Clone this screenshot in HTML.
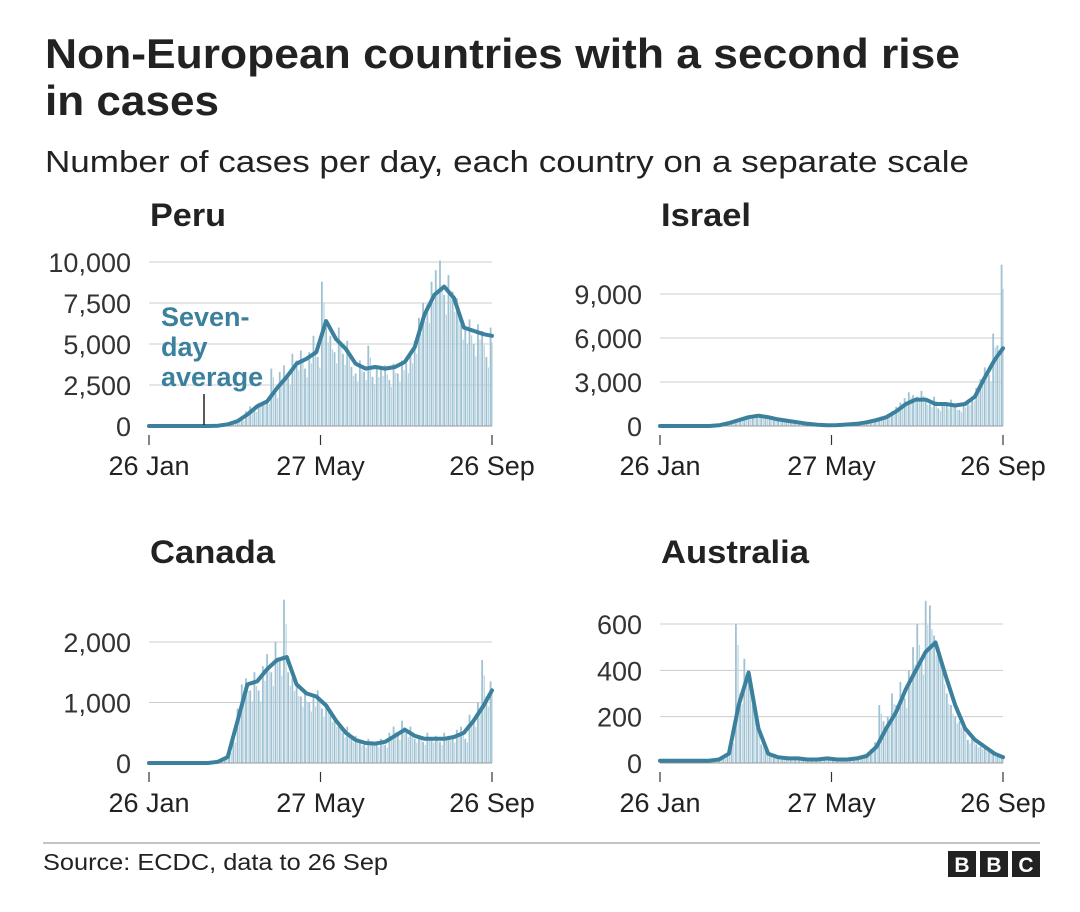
<!DOCTYPE html>
<html><head><meta charset="utf-8">
<style>
body{margin:0;background:#fff;width:1080px;height:907px;overflow:hidden;font-family:"Liberation Sans",Arial,sans-serif;}
svg text{font-family:"Liberation Sans",Arial,sans-serif;}
</style></head>
<body>
<svg id="chart" width="1080" height="907" viewBox="0 0 1080 907" xmlns="http://www.w3.org/2000/svg">
<text x="45" y="68" font-size="42" font-weight="bold" fill="#222" textLength="915" lengthAdjust="spacingAndGlyphs">Non-European countries with a second rise</text>
<text x="45" y="115" font-size="42" font-weight="bold" fill="#222" textLength="174" lengthAdjust="spacingAndGlyphs">in cases</text>
<text x="45" y="172" font-size="31" fill="#222" textLength="924" lengthAdjust="spacingAndGlyphs">Number of cases per day, each country on a separate scale</text>
<line x1="43" y1="843" x2="1040" y2="843" stroke="#888" stroke-width="1"/>
<text x="43" y="870" font-size="23" fill="#222" textLength="345" lengthAdjust="spacingAndGlyphs">Source: ECDC, data to 26 Sep</text>
<g>
<rect x="948" y="851" width="28" height="26" fill="#222"/><rect x="980" y="851" width="28" height="26" fill="#222"/><rect x="1012" y="851" width="28" height="26" fill="#222"/>
<text x="962" y="872" font-size="21" font-weight="bold" fill="#fff" text-anchor="middle">B</text>
<text x="994" y="872" font-size="21" font-weight="bold" fill="#fff" text-anchor="middle">B</text>
<text x="1026" y="872" font-size="21" font-weight="bold" fill="#fff" text-anchor="middle">C</text>
</g>
</svg>
<script>
const xTickLabels = ["26 Jan","27 May","26 Sep"];
const xTickDays = [0,122,244];
const totalDays = 244;
const avgStep = 7, barStep = 3;

const peruAvg = [0,0,0,0,0,0,0,20,100,300,700,1200,1500,2300,3000,3800,4100,4500,6400,5300,4700,3800,3500,3600,3500,3600,3900,4800,6800,8000,8500,7800,6000,5800,5600,5500];
const peruBars = [0,0,0,0,0,0,0,0,0,0,0,0,0,0,0,0,0,0,0,100,200,300,400,900,1200,1000,1400,1500,1600,3500,2000,3300,3700,2900,4400,4000,4600,3500,4500,5500,4200,8800,6000,5500,4500,6000,4400,5200,3600,3200,4000,3300,4900,3000,3500,3600,3700,2800,3800,3200,4000,3800,4500,5200,6600,7500,7400,8800,9500,10100,8000,9200,8200,7800,6200,5900,6500,5000,6200,5800,4200,6000];
const peruTicks = [0,2500,5000,7500,10000];
const peruTickLabels = ["0","2,500","5,000","7,500","10,000"];

const israelAvg = [0,0,0,0,0,0,50,200,400,600,700,600,450,350,250,150,80,50,60,100,150,250,400,600,1000,1500,1800,1800,1500,1500,1400,1500,2000,3300,4500,5300];
const israelBars = [0,0,0,0,0,0,0,0,0,0,0,0,0,0,100,150,250,300,400,500,600,700,750,800,650,700,550,500,400,450,300,350,250,200,150,150,100,80,60,50,40,60,80,100,150,120,200,250,200,300,400,350,500,650,800,1000,1300,1600,1900,2300,2100,2000,2400,1700,1500,2000,1200,1600,1400,1800,1300,1100,1500,1700,2000,2600,3200,4000,3500,6300,5500,11000];
const israelTicks = [0,3000,6000,9000];
const israelTickLabels = ["0","3,000","6,000","9,000"];

const canadaAvg = [0,0,0,0,0,0,0,20,100,700,1300,1350,1550,1700,1750,1300,1150,1100,950,700,500,380,330,320,350,450,550,450,400,400,400,430,500,700,950,1200];
const canadaBars = [0,0,0,0,0,0,0,0,0,0,0,0,0,0,0,0,20,50,100,200,400,900,1300,1400,1200,1500,1200,1600,1800,1500,2000,1700,2700,1500,1400,1300,1100,1200,1000,1100,1200,900,1000,800,700,650,500,600,400,450,350,300,400,350,300,400,300,500,600,450,700,500,600,400,450,350,500,400,450,350,500,450,400,550,600,400,800,700,1000,1700,1100,1350];
const canadaTicks = [0,1000,2000];
const canadaTickLabels = ["0","1,000","2,000"];

const ausAvg = [10,10,10,10,10,10,15,40,250,390,150,40,25,20,20,15,15,20,15,15,20,30,70,150,220,320,400,480,520,380,250,150,100,70,40,25];
const ausBars = [5,8,5,10,12,8,10,12,15,10,12,15,20,15,20,25,40,100,600,300,450,400,250,150,80,60,40,30,25,20,30,20,15,20,15,10,20,15,10,20,25,15,10,15,20,25,15,20,30,40,60,90,250,180,200,300,250,350,280,400,500,600,450,700,680,550,500,400,300,250,200,180,150,100,120,80,70,60,50,40,30,20];
const ausTicks = [0,200,400,600];
const ausTickLabels = ["0","200","400","600"];

const panels = [
 {name:"peru",title:"Peru",titleW:76,x0:149,x1:492,y0:426,yTop:262,tx:150,ty:226,max:10000,avg:peruAvg,bars:peruBars,ticks:peruTicks,labels:peruTickLabels},
 {name:"israel",title:"Israel",titleW:90,x0:660,x1:1003,y0:426,yTop:294,tx:661,ty:226,max:9000,avg:israelAvg,bars:israelBars,ticks:israelTicks,labels:israelTickLabels},
 {name:"canada",title:"Canada",titleW:125,x0:149,x1:492,y0:763,yTop:642,tx:150,ty:563,max:2000,avg:canadaAvg,bars:canadaBars,ticks:canadaTicks,labels:canadaTickLabels},
 {name:"australia",title:"Australia",titleW:148,x0:660,x1:1003,y0:763,yTop:624,tx:661,ty:563,max:600,avg:ausAvg,bars:ausBars,ticks:ausTicks,labels:ausTickLabels}
];

const NS="http://www.w3.org/2000/svg";
const svg=document.getElementById('chart');
function mk(tag,attrs,parent){const e=document.createElementNS(NS,tag);for(const k in attrs)e.setAttribute(k,attrs[k]);(parent||svg).appendChild(e);return e;}

panels.forEach(p=>{
 const g=mk('g',{});
 
 
 const xs=d=>p.x0+(p.x1-p.x0)*Math.min(d,totalDays)/totalDays;
 const ys=v=>p.y0-(p.y0-p.yTop)*v/p.max;
 const t=mk('text',{x:p.tx,y:p.ty,'font-size':32,'font-weight':'bold',fill:'#222',textLength:p.titleW,lengthAdjust:'spacingAndGlyphs'},g);
 t.textContent=p.title;
 
 
 p.ticks.forEach((v,i)=>{
  const y=ys(v);
  if(v>0){const gl=mk('line',{x1:p.x0,x2:p.x1,y1:y,y2:y,stroke:'#ccc','stroke-width':1},g);
   
   }
  const tl=mk('text',{x:p.x0-18,y:y+10,'font-size':27,fill:'#333','text-anchor':'end'},g);
  tl.textContent=p.labels[i];
  
  
 });
 p.bars.forEach((v,i)=>{
  const d=i*barStep; const x=xs(d); const y=ys(v);
  const b=mk('rect',{x:x-0.9,y:y,width:1.8,height:Math.max(0,p.y0-y),fill:'#9fc2d3'},g);
  
  
  const x2=xs(d+1.5);
  const b2=mk('rect',{x:x2-0.6,y:ys(v*0.85),width:1.2,height:Math.max(0,p.y0-ys(v*0.85)),fill:'#b9d3df'},g);
  
  
 });
 const base=mk('line',{x1:p.x0,x2:p.x1,y1:p.y0,y2:p.y0,stroke:'#999','stroke-width':1},g);
 
 
 let dstr='';
 p.avg.forEach((v,i)=>{dstr+=(i?'L':'M')+xs(i*avgStep).toFixed(1)+','+ys(v).toFixed(1);});
 const ln=mk('path',{d:dstr,fill:'none',stroke:'#3b809d','stroke-width':4,'stroke-linejoin':'round','stroke-linecap':'round'},g);
 
 
 xTickDays.forEach((d,i)=>{
  const x=xs(d);
  const tk=mk('line',{x1:x,x2:x,y1:p.y0+9,y2:p.y0+19,stroke:'#333','stroke-width':1.2},g);
  
  
  const tl=mk('text',{x:x,y:p.y0+49,'font-size':27,fill:'#222','text-anchor':'middle'},g);
  tl.textContent=xTickLabels[i];
  
  
 });
});

const ann=mk('g',{});


[["Seven-",326],["day",356],["average",386]].forEach(a=>{
 const t=mk('text',{x:161,y:a[1],'font-size':27,'font-weight':'bold',fill:'#3b809d'},ann);
 t.textContent=a[0];
});
mk('line',{x1:204,x2:204,y1:394,y2:425,stroke:'#222','stroke-width':1.5},ann);
</script>
</body></html>
